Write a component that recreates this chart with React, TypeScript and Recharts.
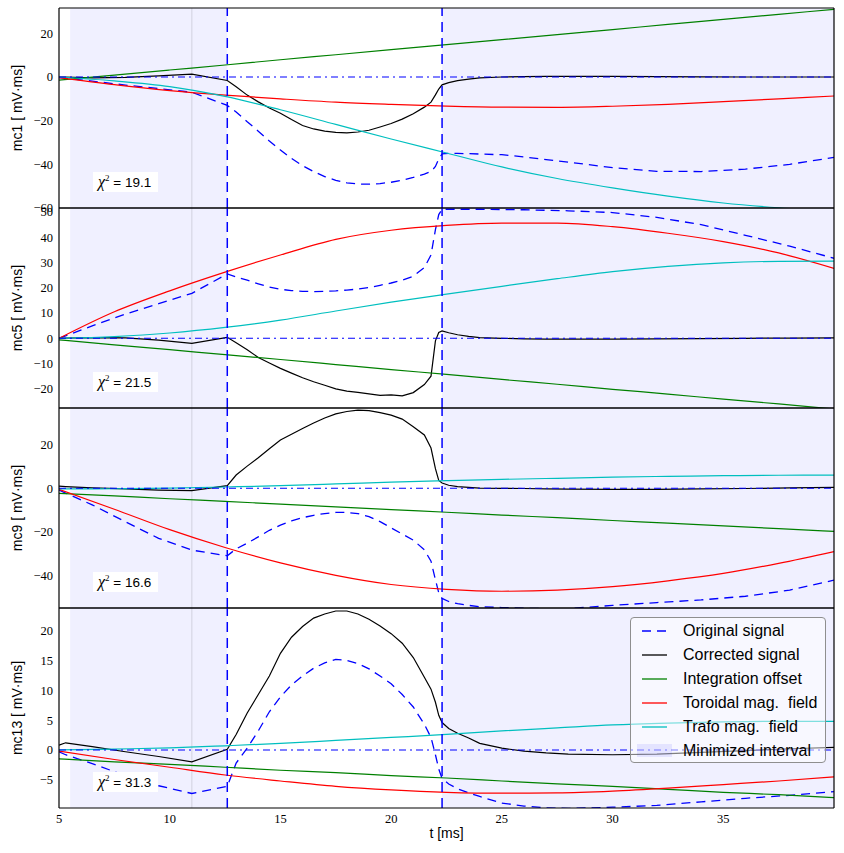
import React from 'react';
import { LineChart, Line, XAxis, YAxis, ReferenceArea, ReferenceLine } from 'recharts';

// ---- time grids (ms) ----
const T_SIG = [5, 5.3, 6.5, 8, 9.5, 11, 12.6, 13, 13.5, 14, 14.5, 15, 15.5, 16, 16.5, 17, 17.5, 18, 18.5, 19, 19.5, 20, 20.5, 21, 21.5, 21.8, 22, 22.15, 22.3, 22.6, 23, 23.5, 24, 25, 26, 27, 28, 30, 32, 34, 36, 38, 40];
const T_FIT = [5, 7.5, 10, 12.5, 15, 17.5, 20, 22.5, 25, 27.5, 30, 32.5, 35, 37.5, 40];

// ---- mc1 ----
const MC1_ORIG = [-0.3, -0.5, -1.9, -3.7, -5.3, -7.0, -13.0, -16.0, -20.5, -24.8, -29.3, -33.4, -37.3, -40.6, -43.3, -45.6, -47.3, -48.5, -49.0, -49.1, -48.8, -48.2, -47.3, -46.0, -44.5, -43.3, -41.0, -37.5, -35.2, -35.0, -35.0, -35.1, -35.3, -35.6, -36.6, -37.8, -39.0, -41.5, -43.2, -43.3, -42.2, -40.0, -36.8];
const MC1_CORR = [0.0, -0.1, -0.4, -0.2, 0.5, 1.3, -1.6, -4.5, -8.3, -11.4, -14.2, -16.6, -19.5, -22.2, -23.8, -24.8, -25.4, -25.6, -25.2, -24.4, -22.9, -21.3, -19.3, -16.8, -13.8, -11.5, -8.2, -5.5, -3.6, -2.6, -1.7, -1.0, -0.4, 0.0, 0.2, 0.3, 0.3, 0.3, 0.2, 0.1, 0.0, 0.0, 0.0];
const MC1_OFFSET = [-1.4, 0.9, 3.2, 5.5, 7.9, 10.2, 12.5, 14.8, 17.1, 19.4, 21.7, 24.1, 26.4, 28.7, 31.0];
const MC1_TOROIDAL = [-0.3, -3.5, -6.2, -8.3, -10.0, -11.5, -12.5, -13.3, -13.8, -13.9, -13.4, -12.5, -11.3, -10.0, -8.7];
const MC1_TRAFO = [0.0, -1.8, -4.4, -8.9, -15.0, -21.7, -28.4, -34.8, -41.2, -46.5, -50.8, -54.6, -57.7, -59.9, -61.5];

// ---- mc5 ----
const MC5_ORIG = [0.0, 1.0, 4.9, 9.6, 13.7, 17.8, 25.5, 24.3, 23.0, 21.6, 20.3, 19.4, 18.9, 18.6, 18.5, 18.6, 18.8, 19.1, 19.5, 20.1, 21.0, 21.9, 23.0, 24.6, 28.0, 33.0, 43.0, 49.0, 51.1, 51.1, 51.1, 51.1, 51.1, 51.0, 50.9, 50.7, 50.5, 49.8, 47.9, 45.0, 40.8, 36.5, 31.7];
const MC5_CORR = [0.0, 0.1, 0.3, 0.2, -0.7, -2.0, 0.4, -1.8, -4.5, -7.6, -9.8, -11.9, -13.8, -15.6, -17.2, -18.6, -20.0, -20.9, -21.4, -22.0, -22.6, -22.4, -22.8, -21.5, -18.3, -15.0, -1.0, 2.3, 2.9, 2.2, 1.4, 0.8, 0.3, 0.0, -0.2, -0.3, -0.3, -0.3, -0.2, -0.1, 0.0, 0.1, 0.2];
const MC5_OFFSET = [-0.6, -2.6, -4.5, -6.5, -8.4, -10.4, -12.4, -14.3, -16.3, -18.2, -20.2, -22.1, -24.1, -26.0, -28.0];
const MC5_TOROIDAL = [0.0, 10.5, 18.8, 26.2, 33.0, 39.2, 42.8, 44.7, 45.6, 45.6, 44.2, 41.6, 38.3, 33.8, 27.7];
const MC5_TRAFO = [0.0, 0.7, 2.1, 4.3, 7.2, 10.8, 14.3, 17.5, 20.6, 23.6, 26.4, 28.5, 29.9, 30.5, 30.6];

// ---- mc9 ----
const MC9_ORIG = [-0.8, -2.2, -7.6, -15.4, -23.0, -28.4, -31.0, -27.8, -25.2, -22.3, -19.3, -16.9, -15.0, -13.5, -12.4, -11.6, -11.1, -11.1, -11.6, -13.0, -15.3, -18.2, -21.0, -23.8, -28.3, -33.5, -42.0, -48.0, -50.6, -52.0, -53.0, -53.8, -54.4, -54.8, -55.1, -55.3, -55.3, -53.8, -52.5, -51.3, -49.6, -46.8, -42.2];
const MC9_CORR = [1.0, 0.8, 0.2, -0.3, -0.8, -1.1, 1.2, 6.1, 10.2, 14.0, 18.2, 22.2, 24.8, 27.5, 30.0, 32.3, 34.2, 35.3, 35.9, 35.7, 34.8, 33.6, 31.8, 28.3, 24.5, 18.5, 9.0, 3.6, 2.4, 1.4, 0.8, 0.4, 0.1, 0.0, -0.1, -0.3, -0.4, -0.5, -0.5, -0.3, -0.1, 0.2, 0.4];
const MC9_OFFSET = [-2.3, -3.5, -4.8, -6.0, -7.3, -8.5, -9.8, -11.0, -12.3, -13.5, -14.8, -16.0, -17.3, -18.5, -19.8];
const MC9_TOROIDAL = [-0.5, -9.6, -19.0, -27.2, -34.3, -40.0, -44.2, -46.4, -47.3, -46.8, -45.2, -42.5, -39.1, -34.5, -29.1];
const MC9_TRAFO = [-0.3, -0.2, 0.1, 0.6, 1.2, 2.0, 2.8, 3.5, 4.1, 4.6, 5.1, 5.5, 5.8, 6.0, 6.1];

// ---- mc13 ----
const MC13_ORIG = [-0.3, -0.8, -2.3, -4.3, -6.0, -7.3, -6.1, -2.2, 0.3, 3.2, 6.4, 8.9, 10.9, 12.4, 13.7, 14.6, 15.2, 15.0, 14.5, 13.6, 12.4, 11.1, 9.3, 7.2, 4.3, 2.1, -0.8, -3.2, -4.8, -5.7, -6.5, -7.2, -7.8, -8.9, -9.4, -9.7, -9.8, -9.6, -9.3, -8.7, -8.1, -7.6, -7.0];
const MC13_CORR = [0.8, 1.2, 0.55, -0.3, -1.1, -2.0, 0.1, 2.6, 6.2, 9.3, 12.4, 16.2, 18.9, 20.7, 22.1, 22.8, 23.3, 23.3, 22.8, 21.9, 20.8, 19.5, 17.9, 15.5, 12.2, 10.2, 8.0, 5.8, 4.6, 3.6, 2.8, 2.0, 1.1, 0.3, -0.2, -0.5, -0.7, -0.8, -0.7, -0.4, -0.1, 0.2, 0.45];
const MC13_OFFSET = [-1.5, -2.0, -2.4, -2.9, -3.4, -3.8, -4.3, -4.7, -5.2, -5.7, -6.1, -6.6, -7.1, -7.5, -8.0];
const MC13_TOROIDAL = [-0.2, -1.6, -2.9, -4.2, -5.2, -6.1, -6.7, -7.1, -7.25, -7.2, -6.9, -6.4, -5.8, -5.2, -4.5];
const MC13_TRAFO = [0.0, 0.15, 0.35, 0.7, 1.1, 1.6, 2.1, 2.6, 3.2, 3.7, 4.2, 4.5, 4.7, 4.8, 4.8];

// ---- labels / ticks ----
const PANEL_NAMES = ['mc1', 'mc5', 'mc9', 'mc13'];
const CHI2 = ['19.1', '21.5', '16.6', '31.3'];
const X_TICKS = [5, 10, 15, 20, 25, 30, 35];
const Y_TICKS = [
  [-60, -40, -20, 0, 20],
  [-20, -10, 0, 10, 20, 30, 40, 50],
  [-40, -20, 0, 20],
  [-5, 0, 5, 10, 15, 20],
];
const Y_DOMAINS: [number, number][] = [
  [-60, 31.6],
  [-27.6, 51.6],
  [-55, 36.9],
  [-9.73, 23.8],
];
const INTERVAL_1 = [5.5, 12.6];
const INTERVAL_2 = [22.3, 40];
const T_MARK = 11;
const LEGEND_LABELS = ['Original signal', 'Corrected signal', 'Integration offset', 'Toroidal mag. field', 'Trafo mag. field', 'Minimized interval'];

const SERIES = [
  { orig: MC1_ORIG, corr: MC1_CORR, off: MC1_OFFSET, tor: MC1_TOROIDAL, tra: MC1_TRAFO },
  { orig: MC5_ORIG, corr: MC5_CORR, off: MC5_OFFSET, tor: MC5_TOROIDAL, tra: MC5_TRAFO },
  { orig: MC9_ORIG, corr: MC9_CORR, off: MC9_OFFSET, tor: MC9_TOROIDAL, tra: MC9_TRAFO },
  { orig: MC13_ORIG, corr: MC13_CORR, off: MC13_OFFSET, tor: MC13_TOROIDAL, tra: MC13_TRAFO },
];

// ---- styling ----
const BLUE = '#0000ff';
const GREEN = '#008000';
const RED = '#ff0000';
const CYAN = '#00bfbf';
const SERIF = '"Liberation Serif", "DejaVu Serif", serif';
const SANS = '"Liberation Sans", Arial, sans-serif';
const PANEL_TOP = 8;
const PANEL_H = 200;
const PAD = 8;
const XAXIS_H = 45;
const ORIG_DASH = '9 6';
const VLINE_DASH = '10 6';
const ZERO_DASH = '7 4 2 4';

const fmt = (v: number) => (v < 0 ? '\u2212' + Math.abs(v) : String(v));

const sig = (vs: number[]) => T_SIG.map((t, i) => ({ t, v: vs[i] }));
const fit = (vs: number[]) => T_FIT.map((t, i) => ({ t, v: vs[i] }));

function makeYLabel(text: string) {
  return (props: any) => {
    const vb = props.viewBox || { y: PAD, height: PANEL_H };
    const cy = vb.y + vb.height / 2;
    return (
      <text
        x={17}
        y={cy}
        transform={`rotate(-90 17 ${cy})`}
        textAnchor="middle"
        dominantBaseline="central"
        fontFamily={SANS}
        fontSize={14}
        fill="#000"
      >
        {text}
      </text>
    );
  };
}

const XLabel = (props: any) => {
  const vb = props.viewBox || { x: 59, y: PAD + PANEL_H, width: 775 };
  return (
    <text x={vb.x + vb.width / 2} y={vb.y + 30} textAnchor="middle" fontFamily={SANS} fontSize={14} fill="#000">
      t [ms]
    </text>
  );
};

function Panel({ idx }: { idx: number }) {
  const last = idx === 3;
  const top = PANEL_TOP + PANEL_H * idx - PAD;
  const height = PAD + PANEL_H + (last ? XAXIS_H : PAD);
  const s = SERIES[idx];
  const frame = { stroke: '#000', strokeWidth: 1.2 };
  const tl = { stroke: '#000', strokeWidth: 1 };
  return (
    <div style={{ position: 'absolute', left: 0, top, width: 844, height }}>
      <LineChart width={844} height={height} margin={{ top: PAD, right: 10, bottom: last ? 0 : PAD, left: 0 }}>
        <XAxis xAxisId="x" type="number" dataKey="t" domain={[5, 40]} allowDataOverflow ticks={X_TICKS} interval={0}
          orientation="bottom" mirror tick={false} tickSize={5} axisLine={frame} tickLine={tl} />
        <XAxis xAxisId="xt" type="number" dataKey="t" domain={[5, 40]} allowDataOverflow ticks={X_TICKS} interval={0}
          orientation="top" mirror tick={false} tickSize={5} axisLine={frame} tickLine={tl} />
        {last && (
          <XAxis xAxisId="xl" type="number" dataKey="t" domain={[5, 40]} allowDataOverflow ticks={X_TICKS} interval={0}
            orientation="bottom" height={XAXIS_H} tickLine={false} axisLine={false} tickSize={0} tickMargin={6}
            tick={{ fontFamily: SERIF, fontSize: 12.5, fill: '#000' }}
            label={{ value: 't [ms]', content: XLabel }} />
        )}
        <YAxis yAxisId="y" type="number" domain={Y_DOMAINS[idx]} allowDataOverflow ticks={Y_TICKS[idx]} interval={0}
          width={59} tickLine={false} axisLine={false} tickSize={0} tickMargin={6} tickFormatter={fmt}
          tick={{ fontFamily: SERIF, fontSize: 12.5, fill: '#000' }}
          label={{ value: PANEL_NAMES[idx], content: makeYLabel(`${PANEL_NAMES[idx]} [ mV\u00b7ms]`) }} />
        <YAxis yAxisId="ym" type="number" domain={Y_DOMAINS[idx]} allowDataOverflow ticks={Y_TICKS[idx]} interval={0}
          orientation="left" mirror tick={false} tickSize={5} axisLine={frame} tickLine={tl} />
        <YAxis yAxisId="yr" type="number" domain={Y_DOMAINS[idx]} allowDataOverflow ticks={Y_TICKS[idx]} interval={0}
          orientation="right" mirror tick={false} tickSize={5} axisLine={frame} tickLine={tl} />

        <ReferenceArea xAxisId="x" yAxisId="y" x1={INTERVAL_1[0]} x2={INTERVAL_1[1]} fill={BLUE} fillOpacity={0.06} stroke="none" />
        <ReferenceArea xAxisId="x" yAxisId="y" x1={INTERVAL_2[0]} x2={INTERVAL_2[1]} fill={BLUE} fillOpacity={0.06} stroke="none" />
        <ReferenceLine xAxisId="x" yAxisId="y" x={T_MARK} stroke="#000" strokeOpacity={0.13} strokeWidth={1} />

        <Line xAxisId="x" yAxisId="y" data={sig(s.orig)} dataKey="v" type="linear" stroke={BLUE} strokeWidth={1.3}
          strokeDasharray={ORIG_DASH} dot={false} activeDot={false} isAnimationActive={false} />
        <Line xAxisId="x" yAxisId="y" data={sig(s.corr)} dataKey="v" type="linear" stroke="#000" strokeWidth={1.2}
          dot={false} activeDot={false} isAnimationActive={false} />
        <Line xAxisId="x" yAxisId="y" data={fit(s.off)} dataKey="v" type="monotone" stroke={GREEN} strokeWidth={1.2}
          dot={false} activeDot={false} isAnimationActive={false} />
        <Line xAxisId="x" yAxisId="y" data={fit(s.tor)} dataKey="v" type="monotone" stroke={RED} strokeWidth={1.2}
          dot={false} activeDot={false} isAnimationActive={false} />
        <Line xAxisId="x" yAxisId="y" data={fit(s.tra)} dataKey="v" type="monotone" stroke={CYAN} strokeWidth={1.2}
          dot={false} activeDot={false} isAnimationActive={false} />

        <ReferenceLine xAxisId="x" yAxisId="y" y={0} stroke={BLUE} strokeWidth={1.1} strokeDasharray={ZERO_DASH} />
        <ReferenceLine xAxisId="x" yAxisId="y" x={INTERVAL_1[1]} stroke={BLUE} strokeWidth={1.5} strokeDasharray={VLINE_DASH} />
        <ReferenceLine xAxisId="x" yAxisId="y" x={INTERVAL_2[0]} stroke={BLUE} strokeWidth={1.5} strokeDasharray={VLINE_DASH} />
      </LineChart>
    </div>
  );
}

function Chi2Box({ idx }: { idx: number }) {
  return (
    <div
      style={{
        position: 'absolute', left: 93, top: PANEL_TOP + PANEL_H * idx + 164, width: 65, height: 20,
        background: '#fff', lineHeight: '20px', paddingLeft: 5, boxSizing: 'border-box', whiteSpace: 'nowrap',
        fontFamily: SANS, fontSize: 13.5, color: '#000',
      }}
    >
      <span style={{ fontFamily: SERIF, fontStyle: 'italic', fontSize: 16 }}>χ</span>
      <span style={{ fontFamily: SERIF, fontSize: 9, position: 'relative', top: -6 }}>2</span>
      <span> = {CHI2[idx]}</span>
    </div>
  );
}

function LegendBox() {
  const rowH = 24;
  const sample = (i: number) => {
    if (i === 5) return <rect x={6} y={5} width={35} height={13} fill={BLUE} fillOpacity={0.08} />;
    const color = [BLUE, '#000', GREEN, RED, CYAN][i];
    return <line x1={11} x2={36} y1={12} y2={12} stroke={color} strokeWidth={1.3} strokeDasharray={i === 0 ? ORIG_DASH : undefined} />;
  };
  return (
    <div
      style={{
        position: 'absolute', left: 630, top: 617, width: 196, height: 146, boxSizing: 'border-box',
        border: '1px solid #8f8f8f', borderRadius: 4, background: 'rgba(255,255,255,0.5)',
      }}
    >
      {LEGEND_LABELS.map((lab, i) => (
        <div key={lab} style={{ position: 'absolute', left: 0, top: 1 + rowH * i, width: 194, height: rowH }}>
          <svg width={45} height={rowH} style={{ position: 'absolute', left: 0, top: 0 }}>{sample(i)}</svg>
          <span style={{ position: 'absolute', left: 52, top: 0, lineHeight: rowH + 'px', fontFamily: SANS, fontSize: 16, color: '#000', whiteSpace: 'pre' }}>
            {lab.replace('. ', '.  ')}
          </span>
        </div>
      ))}
    </div>
  );
}

export default function App() {
  return (
    <div style={{ position: 'absolute', left: 0, top: 0, width: 844, height: 853, background: '#fff', overflow: 'hidden' }}>
      {[0, 1, 2, 3].map((i) => (
        <Panel key={i} idx={i} />
      ))}
      {[0, 1, 2, 3].map((i) => (
        <Chi2Box key={'c' + i} idx={i} />
      ))}
      <LegendBox />
    </div>
  );
}
